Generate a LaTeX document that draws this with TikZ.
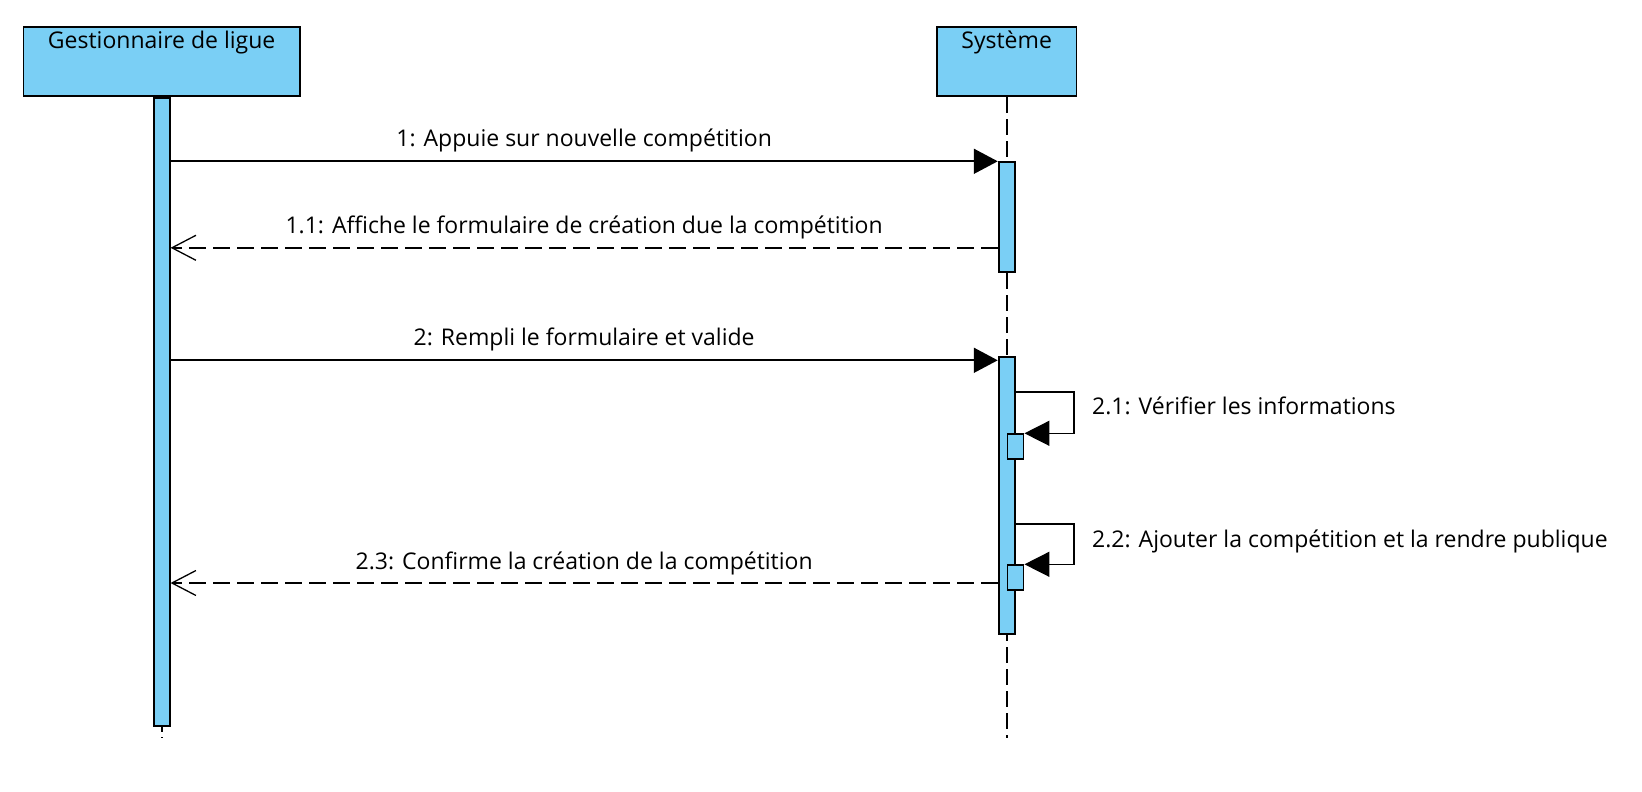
\documentclass[tikz,border=0pt]{standalone}
\usepackage{fontspec}
\setmainfont{Open Sans}
\usetikzlibrary{arrows.meta,calc}
\definecolor{actblue}{RGB}{122,207,245}
\begin{document}
\begin{tikzpicture}[x=1pt,y=-1pt,
  font=\fontsize{23}{28}\selectfont,
  objbox/.style={draw=black, fill=actblue, line width=1.8pt, minimum height=69pt, anchor=north west, inner sep=0pt},
  bar/.style={draw=black, fill=actblue, line width=1.8pt, minimum width=16pt, anchor=north, inner sep=0pt},
  lifeline/.style={line width=1.8pt, dash pattern=on 16pt off 6pt},
  stubline/.style={line width=1.8pt, dash pattern=on 5pt off 5pt on 4pt off 20pt},
  syncmsg/.style={line width=1.8pt, -{Triangle[length=24pt,width=25pt]}},
  selfmsg/.style={line width=1.5pt, -{Triangle[length=25pt,width=25pt]}},
  retmsg/.style={line width=1.8pt, dash pattern=on 17pt off 7pt, -{Straight Barb[length=24pt,width=25pt,line width=1.3pt]}},
  lbl/.style={anchor=base, inner sep=0pt}
]
\useasboundingbox (0,0) rectangle (1642,792);
\fill[white] (0,0) rectangle (1642,792);

% objects
\node[objbox, minimum width=276.5pt] (gest) at (22.5,26.5) {};
\node[lbl] (gestT) at (gest.north |- 0,49) {Gestionnaire de ligue};
\node[objbox, minimum width=139.5pt] (sys) at (936,26.5) {};
\node[lbl] (sysT) at (sys.north |- 0,49) {Système};

% lifelines
\coordinate (send) at (sys.south |- 0,738);
\draw[lifeline] (sys.south) -- (send);

\node[bar, minimum height=628pt] (g0) at (gest.south) {};
\coordinate (gend) at (g0.south |- 0,738);
\draw[stubline] (g0.south) -- (gend);

% activations on Systeme
\node[bar, minimum height=110pt] (s1) at ($(sys.south)+(0,64)$) {};
\node[bar, minimum height=276.5pt] (s2) at ($(sys.south)+(0,259)$) {};
\node[bar, minimum height=24.5pt, anchor=north west] (s21) at ($(s2.north)+(0,77)$) {};
\node[bar, minimum height=24.5pt, anchor=north west] (s22) at ($(s2.north)+(0,208)$) {};

% message 1
\draw[syncmsg] (g0.east |- s1.north) -- (s1.north west)
  node[lbl, midway, yshift=15pt] (l1) {1: Appuie sur nouvelle compétition};

% message 1.1
\coordinate (r11) at ($(s1.north west)+(0,86.5)$);
\draw[retmsg] (r11) -- (g0.east |- r11)
  node[lbl, midway, yshift=14pt] (l11) {1.1: Affiche le formulaire de création due la compétition};

% message 2
\coordinate (m2) at ($(s2.north west)+(0,4)$);
\draw[syncmsg] (g0.east |- m2) -- (m2)
  node[lbl, midway, yshift=15pt] (l2) {2: Rempli le formulaire et valide};

% self message 2.1
\coordinate (c21a) at (1074,392);
\coordinate (c21b) at (c21a |- s21.north);
\draw[selfmsg] (s2.east |- c21a) -- (c21a) -- (c21b) -- (s21.north east);
\node[anchor=base west, inner sep=0pt] (l21) at (1092,414) {2.1: Vérifier les informations};

% self message 2.2
\coordinate (c22a) at (1074,524);
\coordinate (c22b) at (c22a |- s22.north);
\draw[selfmsg] (s2.east |- c22a) -- (c22a) -- (c22b) -- (s22.north east);
\node[anchor=base west, inner sep=0pt] (l22) at (1092,547) {2.2: Ajouter la compétition et la rendre publique};

% message 2.3
\coordinate (r23) at (s2.west |- 0,583);
\draw[retmsg] (r23) -- (g0.east |- r23)
  node[lbl, midway, yshift=14pt] (l23) {2.3: Confirme la création de la compétition};
\end{tikzpicture}
\end{document}
